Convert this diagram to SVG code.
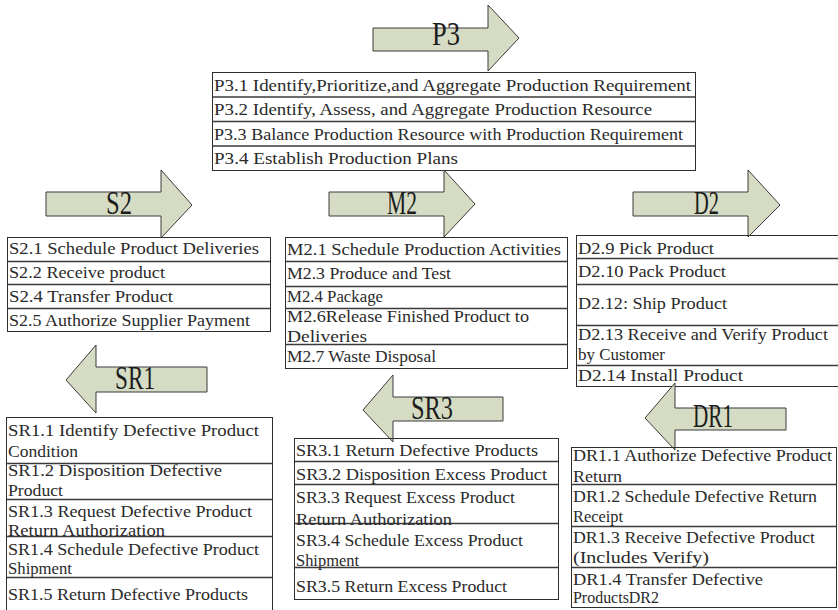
<svg xmlns="http://www.w3.org/2000/svg" width="838" height="610" viewBox="0 0 838 610">
  <style>
    .arrow { fill: #D6DCC4; stroke: #3a3a3a; stroke-width: 1; stroke-linejoin: miter; }
    .box { fill: none; stroke: #2e2e2e; stroke-width: 1; }
    .sep { stroke: #3a3a3a; stroke-width: 1.3; }
    .t { font-family: "Liberation Serif", "DejaVu Serif", serif; font-size: 17px; fill: #2a2a2a; }
    .lbl { font-family: "Liberation Serif", "DejaVu Serif", serif; font-size: 34px; fill: #1c1c1c; }
  </style>

  <rect width="838" height="610" fill="#ffffff"/>

  <!-- Plan: P3 -->
  <g id="P3">
    <polygon class="arrow" points="373,28 488,28 488,5 519,38 488,71 488,51 373,51"/>
    <text class="lbl" x="432" y="45" textLength="28" lengthAdjust="spacingAndGlyphs">P3</text>
    <rect class="box" x="212.5" y="72.5" width="483" height="98"/>
    <line class="sep" x1="212.5" y1="97" x2="695.5" y2="97"/>
    <line class="sep" x1="212.5" y1="121.5" x2="695.5" y2="121.5"/>
    <line class="sep" x1="212.5" y1="146" x2="695.5" y2="146"/>
    <text class="t" x="214" y="91" textLength="477" lengthAdjust="spacingAndGlyphs">P3.1 Identify,Prioritize,and Aggregate Production Requirement</text>
    <text class="t" x="214" y="115" textLength="438" lengthAdjust="spacingAndGlyphs">P3.2 Identify, Assess, and Aggregate Production Resource</text>
    <text class="t" x="214" y="139.5" textLength="469" lengthAdjust="spacingAndGlyphs">P3.3 Balance Production Resource with Production Requirement</text>
    <text class="t" x="214" y="163.5" textLength="244" lengthAdjust="spacingAndGlyphs">P3.4 Establish Production Plans</text>
  </g>

  <!-- Source: S2 -->
  <g id="S2">
    <polygon class="arrow" points="46,192 161,192 161,170 192,205 161,238 161,216 46,216"/>
    <text class="lbl" x="106" y="214" textLength="26" lengthAdjust="spacingAndGlyphs">S2</text>
    <rect class="box" x="7.5" y="237.5" width="263" height="94"/>
    <line class="sep" x1="7.5" y1="261.5" x2="270.5" y2="261.5"/>
    <line class="sep" x1="7.5" y1="284.5" x2="270.5" y2="284.5"/>
    <line class="sep" x1="7.5" y1="308.5" x2="270.5" y2="308.5"/>
    <text class="t" x="9" y="254" textLength="250" lengthAdjust="spacingAndGlyphs">S2.1 Schedule Product Deliveries</text>
    <text class="t" x="9" y="278" textLength="156" lengthAdjust="spacingAndGlyphs">S2.2 Receive product</text>
    <text class="t" x="9" y="302" textLength="164" lengthAdjust="spacingAndGlyphs">S2.4 Transfer Product</text>
    <text class="t" x="9" y="325.5" textLength="241" lengthAdjust="spacingAndGlyphs">S2.5 Authorize Supplier Payment</text>
  </g>

  <!-- Make: M2 -->
  <g id="M2">
    <polygon class="arrow" points="329,192 444,192 444,170 475,204 444,237 444,216 329,216"/>
    <text class="lbl" x="387" y="214" textLength="30" lengthAdjust="spacingAndGlyphs">M2</text>
    <rect class="box" x="285.5" y="237.5" width="282" height="131"/>
    <line class="sep" x1="285.5" y1="261.5" x2="567.5" y2="261.5"/>
    <line class="sep" x1="285.5" y1="286.5" x2="567.5" y2="286.5"/>
    <line class="sep" x1="285.5" y1="308.5" x2="567.5" y2="308.5"/>
    <line class="sep" x1="285.5" y1="344.5" x2="567.5" y2="344.5"/>
    <text class="t" x="287" y="255" textLength="274" lengthAdjust="spacingAndGlyphs">M2.1 Schedule Production Activities</text>
    <text class="t" x="287" y="279" textLength="164" lengthAdjust="spacingAndGlyphs">M2.3 Produce and Test</text>
    <text class="t" x="287" y="302" textLength="96" lengthAdjust="spacingAndGlyphs">M2.4 Package</text>
    <text class="t" x="287" y="321.5" textLength="242" lengthAdjust="spacingAndGlyphs">M2.6Release Finished Product to</text>
    <text class="t" x="287" y="341.5" textLength="80" lengthAdjust="spacingAndGlyphs">Deliveries</text>
    <text class="t" x="287" y="361.5" textLength="149" lengthAdjust="spacingAndGlyphs">M2.7 Waste Disposal</text>
  </g>

  <!-- Deliver: D2 -->
  <g id="D2">
    <polygon class="arrow" points="633,192 748,192 748,170 780,205 748,237 748,216 633,216"/>
    <text class="lbl" x="694" y="214" textLength="25" lengthAdjust="spacingAndGlyphs">D2</text>
    <rect class="box" x="576.5" y="235.5" width="300" height="151"/>
    <line class="sep" x1="576.5" y1="258.5" x2="838" y2="258.5"/>
    <line class="sep" x1="576.5" y1="284.5" x2="838" y2="284.5"/>
    <line class="sep" x1="576.5" y1="325.5" x2="838" y2="325.5"/>
    <line class="sep" x1="576.5" y1="365.5" x2="838" y2="365.5"/>
    <text class="t" x="578" y="254" textLength="136" lengthAdjust="spacingAndGlyphs">D2.9 Pick Product</text>
    <text class="t" x="578" y="277" textLength="148" lengthAdjust="spacingAndGlyphs">D2.10 Pack Product</text>
    <text class="t" x="578" y="309" textLength="149" lengthAdjust="spacingAndGlyphs">D2.12: Ship Product</text>
    <text class="t" x="578" y="340" textLength="250" lengthAdjust="spacingAndGlyphs">D2.13 Receive and Verify Product</text>
    <text class="t" x="578" y="360" textLength="87" lengthAdjust="spacingAndGlyphs">by Customer</text>
    <text class="t" x="578" y="381" textLength="165" lengthAdjust="spacingAndGlyphs">D2.14 Install Product</text>
  </g>

  <!-- Source return: SR1 -->
  <g id="SR1">
    <polygon class="arrow" points="207,367 96,367 96,345 66,380 96,413 96,392 207,392"/>
    <text class="lbl" x="115" y="389" textLength="40" lengthAdjust="spacingAndGlyphs">SR1</text>
    <rect class="box" x="6.5" y="417.5" width="266" height="200"/>
    <line class="sep" x1="6.5" y1="463.5" x2="272.5" y2="463.5"/>
    <line class="sep" x1="6.5" y1="499.5" x2="272.5" y2="499.5"/>
    <line class="sep" x1="6.5" y1="536.5" x2="272.5" y2="536.5"/>
    <line class="sep" x1="6.5" y1="577.5" x2="272.5" y2="577.5"/>
    <text class="t" x="8" y="436" textLength="251" lengthAdjust="spacingAndGlyphs">SR1.1 Identify Defective Product</text>
    <text class="t" x="8" y="456.5" textLength="70" lengthAdjust="spacingAndGlyphs">Condition</text>
    <text class="t" x="8" y="476" textLength="214" lengthAdjust="spacingAndGlyphs">SR1.2 Disposition Defective</text>
    <text class="t" x="8" y="495.5" textLength="55" lengthAdjust="spacingAndGlyphs">Product</text>
    <text class="t" x="8" y="516.5" textLength="244" lengthAdjust="spacingAndGlyphs">SR1.3 Request Defective Product</text>
    <text class="t" x="8" y="535.5" textLength="157" lengthAdjust="spacingAndGlyphs">Return Authorization</text>
    <text class="t" x="8" y="554.5" textLength="251" lengthAdjust="spacingAndGlyphs">SR1.4 Schedule Defective Product</text>
    <text class="t" x="8" y="574" textLength="64" lengthAdjust="spacingAndGlyphs">Shipment</text>
    <text class="t" x="8" y="599.5" textLength="240" lengthAdjust="spacingAndGlyphs">SR1.5 Return Defective Products</text>
  </g>

  <!-- Source return: SR3 -->
  <g id="SR3">
    <polygon class="arrow" points="503,397 393,397 393,375 363,410 393,442 393,421 503,421"/>
    <text class="lbl" x="411" y="419" textLength="42" lengthAdjust="spacingAndGlyphs">SR3</text>
    <rect class="box" x="294.5" y="438.5" width="264" height="161"/>
    <line class="sep" x1="294.5" y1="461.5" x2="558.5" y2="461.5"/>
    <line class="sep" x1="294.5" y1="484.5" x2="558.5" y2="484.5"/>
    <line class="sep" x1="294.5" y1="523.5" x2="558.5" y2="523.5"/>
    <line class="sep" x1="294.5" y1="567.5" x2="558.5" y2="567.5"/>
    <text class="t" x="296" y="456" textLength="242" lengthAdjust="spacingAndGlyphs">SR3.1 Return Defective Products</text>
    <text class="t" x="296" y="480" textLength="251" lengthAdjust="spacingAndGlyphs">SR3.2 Disposition Excess Product</text>
    <text class="t" x="296" y="503" textLength="219" lengthAdjust="spacingAndGlyphs">SR3.3 Request Excess Product</text>
    <text class="t" x="296" y="525" textLength="156" lengthAdjust="spacingAndGlyphs">Return Authorization</text>
    <text class="t" x="296" y="546" textLength="227" lengthAdjust="spacingAndGlyphs">SR3.4 Schedule Excess Product</text>
    <text class="t" x="296" y="566" textLength="63" lengthAdjust="spacingAndGlyphs">Shipment</text>
    <text class="t" x="296" y="591.5" textLength="211" lengthAdjust="spacingAndGlyphs">SR3.5 Return Excess Product</text>
  </g>

  <!-- Deliver return: DR1 -->
  <g id="DR1">
    <polygon class="arrow" points="786,408 675,408 675,383 645,418 675,450 675,430 786,430"/>
    <text class="lbl" x="693" y="427" textLength="40" lengthAdjust="spacingAndGlyphs">DR1</text>
    <rect class="box" x="571.5" y="447.5" width="265" height="160"/>
    <line class="sep" x1="571.5" y1="484.5" x2="836.5" y2="484.5"/>
    <line class="sep" x1="571.5" y1="526.5" x2="836.5" y2="526.5"/>
    <line class="sep" x1="571.5" y1="567.5" x2="836.5" y2="567.5"/>
    <text class="t" x="573" y="461" textLength="259" lengthAdjust="spacingAndGlyphs">DR1.1 Authorize Defective Product</text>
    <text class="t" x="573" y="481.5" textLength="49" lengthAdjust="spacingAndGlyphs">Return</text>
    <text class="t" x="573" y="501.5" textLength="244" lengthAdjust="spacingAndGlyphs">DR1.2 Schedule Defective Return</text>
    <text class="t" x="573" y="521.5" textLength="50" lengthAdjust="spacingAndGlyphs">Receipt</text>
    <text class="t" x="573" y="543" textLength="242" lengthAdjust="spacingAndGlyphs">DR1.3 Receive Defective Product</text>
    <text class="t" x="573" y="563" textLength="136" lengthAdjust="spacingAndGlyphs">(Includes Verify)</text>
    <text class="t" x="573" y="584.5" textLength="190" lengthAdjust="spacingAndGlyphs">DR1.4 Transfer Defective</text>
    <text class="t" x="573" y="603" textLength="86" lengthAdjust="spacingAndGlyphs">ProductsDR2</text>
  </g>
</svg>
